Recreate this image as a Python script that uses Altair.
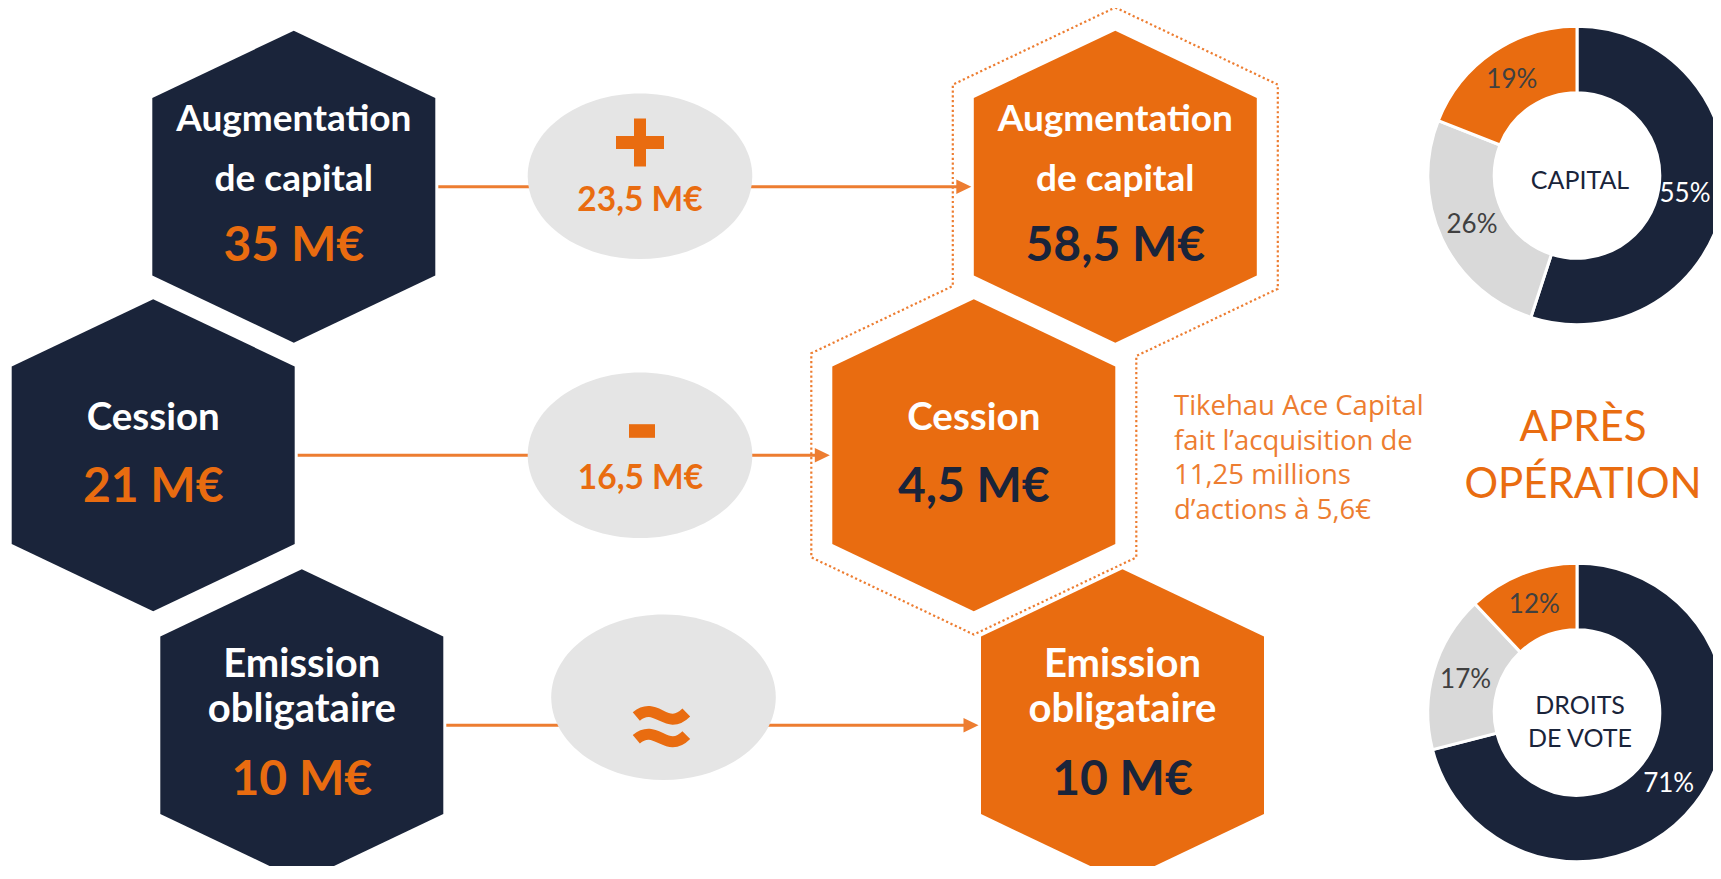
import math
import altair as alt
import pandas as pd

# ---------------- data ----------------
row_titles = [["Augmentation", "de capital"], ["Cession"], ["Emission", "obligataire"]]
before_amounts = ["35 M€", "21 M€", "10 M€"]
after_amounts = ["58,5 M€", "4,5 M€", "10 M€"]
change_amounts = ["23,5 M€", "16,5 M€"]
change_signs = ["plus", "minus", "approx"]
note_lines = ["Tikehau Ace Capital", "fait l’acquisition de", "11,25 millions", "d’actions à 5,6€"]
headline_lines = ["APRÈS", "OPÉRATION"]
donut_titles = [["CAPITAL"], ["DROITS", "DE VOTE"]]
donut_segments = ["navy", "gray", "orange"]
capital_shares = [55, 26, 19]
vote_shares = [71, 17, 12]

# ---------------- layout ----------------
CANVAS_W, CANVAS_H = 1713, 866
before_cx = [293.8, 153.2, 301.8]
after_cx = [1115.3, 973.8, 1122.5]
row_cy = [186.7, 455.3, 725.3]
title_baselines = [[131, 191], [430], [676.5, 722]]
title_sizes = [37, 38.5, 40]
amount_baselines = [260.7, 501.7, 795]
bubble_centers = [(640, 176.2), (640, 455.3), (663.5, 697.2)]
sign_centers = [(640, 142.5), (642, 431), (661.3, 726.5)]
change_pos = [(640, 210.7), (640.5, 489.3)]
note_x, note_baselines = 1174, [415, 449.5, 484, 518.5]
headline_x, headline_baselines = 1583, [440.5, 498.3]
donut_centers = [(1577, 175.5), (1577, 712.5)]
donut_title_baselines = [[189.3], [714, 746.7]]
R_OUT, R_IN, R_LABEL = 149.2, 82.8, 116
LABEL_HALF_W = 28  # keep percentage labels inside the canvas
HEX_W, HEX_H, HEX_S = 141.5, 156, 88.8
OUTLINE_GAP = 21

# ---------------- styles ----------------
NAVY = "#1A243A"
ORANGE = "#E96C10"
LINE = "#ED7D31"
BUBBLE = "#E5E5E5"
DONUT_GRAY = "#D9D9D9"
LABEL_GRAY = "#404040"
FONT = "Lato"
NOTE_FONT = "Open Sans"

HEX_PATH = (f"M0,{-HEX_H}L{HEX_W},{-HEX_S}L{HEX_W},{HEX_S}L0,{HEX_H}"
            f"L{-HEX_W},{HEX_S}L{-HEX_W},{-HEX_S}Z")
ELLIPSE_PATH = "M-112.3,0A112.3,82.8 0 1,1 112.3,0A112.3,82.8 0 1,1 -112.3,0Z"
PLUS_PATH = "M-6,-24L6,-24L6,-6.5L24,-6.5L24,6.5L6,6.5L6,24L-6,24L-6,6.5L-24,6.5L-24,-6.5L-6,-6.5Z"
MINUS_PATH = "M-13,-6.8L13,-6.8L13,6.8L-13,6.8Z"
APPROX_PATH = "M-25,-10C-5,-27 5,6 25,-14M-25,12.7C-5,-4.3 5,28.7 25,8.7"
ARROW_PATH = "M-7.5,-7.3L7.5,0L-7.5,7.3Z"
UNIT = 4  # symbol size 4 -> path drawn at 1px per unit


def X(f):
    return alt.X(f"{f}:Q", scale=alt.Scale(domain=[0, CANVAS_W], nice=False, zero=False), axis=None)


def Y(f):
    return alt.Y(f"{f}:Q", scale=alt.Scale(domain=[0, CANVAS_H], nice=False, zero=False, reverse=True), axis=None)


# ---------------- tables ----------------
hex_df = pd.DataFrame(
    [{"cx": before_cx[i], "cy": row_cy[i], "side": "before"} for i in range(3)]
    + [{"cx": after_cx[i], "cy": row_cy[i], "side": "after"} for i in range(3)]
)

title_rows, amount_rows = [], []
for i in range(3):
    for cx in (before_cx[i], after_cx[i]):
        for line, yb in zip(row_titles[i], title_baselines[i]):
            title_rows.append({"x": cx, "y": yb, "text": line, "fs": title_sizes[i]})
    amount_rows.append({"x": before_cx[i], "y": amount_baselines[i], "text": before_amounts[i], "side": "before"})
    amount_rows.append({"x": after_cx[i], "y": amount_baselines[i], "text": after_amounts[i], "side": "after"})
title_df = pd.DataFrame(title_rows)
amount_df = pd.DataFrame(amount_rows)

arrow_df = pd.DataFrame({
    "y": row_cy,
    "x0": [before_cx[i] + HEX_W + 3 for i in range(3)],
    "x1": [after_cx[i] - HEX_W - 2.5 - 14 for i in range(3)],
    "xh": [after_cx[i] - HEX_W - 2.5 - 7.5 for i in range(3)],
})

bubble_df = pd.DataFrame({"x": [c[0] for c in bubble_centers], "y": [c[1] for c in bubble_centers]})
sign_df = pd.DataFrame({"x": [c[0] for c in sign_centers], "y": [c[1] for c in sign_centers], "sign": change_signs})
change_df = pd.DataFrame({"x": [p[0] for p in change_pos], "y": [p[1] for p in change_pos], "text": change_amounts})

# dotted outline around the two "after" hexagons (rows 0 and 1), offset by OUTLINE_GAP
k = (HEX_H - HEX_S) / HEX_W
cos_t = math.cos(math.atan(k))
Wp = HEX_W + OUTLINE_GAP
Hp = HEX_H + OUTLINE_GAP / cos_t
Sp = Hp - Wp * k
cxD, cyD = after_cx[0], row_cy[0]
cxE, cyE = after_cx[1], row_cy[1]
xr = cxE + Wp
xl = cxD - Wp
pts = [
    (cxD, cyD - Hp), (cxD + Wp, cyD - Sp), (cxD + Wp, cyD + Sp),
    (xr, cyD + Hp - (xr - cxD) * k),
    (cxE + Wp, cyE + Sp), (cxE, cyE + Hp), (cxE - Wp, cyE + Sp), (cxE - Wp, cyE - Sp),
    (xl, cyE - Hp + (cxE - xl) * k),
    (cxD - Wp, cyD - Sp), (cxD, cyD - Hp),
]
outline_df = pd.DataFrame({"x": [p[0] for p in pts], "y": [p[1] for p in pts], "i": list(range(len(pts)))})

note_df = pd.DataFrame({"x": [note_x] * 4, "y": note_baselines, "text": note_lines})
headline_df = pd.DataFrame({"x": [headline_x] * 2, "y": headline_baselines, "text": headline_lines})

arc_rows, pct_rows, dtitle_rows = [], [], []
for d, shares in enumerate([capital_shares, vote_shares]):
    cx, cy = donut_centers[d]
    total = sum(shares)
    acc = 0
    for seg, v in zip(donut_segments, shares):
        t0 = acc / total * 2 * math.pi
        t1 = (acc + v) / total * 2 * math.pi
        mid = (t0 + t1) / 2
        arc_rows.append({"cx": cx, "cy": cy, "t0": t0, "t1": t1, "seg": seg})
        lx = min(cx + R_LABEL * math.sin(mid), CANVAS_W - LABEL_HALF_W)
        pct_rows.append({"x": lx, "y": cy - R_LABEL * math.cos(mid), "text": f"{v}%", "seg": seg})
        acc += v
    for line, yb in zip(donut_titles[d], donut_title_baselines[d]):
        dtitle_rows.append({"x": cx + 3, "y": yb, "text": line})
arc_df = pd.DataFrame(arc_rows)
pct_df = pd.DataFrame(pct_rows)
dtitle_df = pd.DataFrame(dtitle_rows)

# ---------------- layers ----------------
outline = alt.Chart(outline_df).mark_line(color=LINE, strokeWidth=2.2, strokeDash=[2.2, 2.6]).encode(
    x=X("x"), y=Y("y"), order="i:Q")

rules = alt.Chart(arrow_df).mark_rule(color=LINE, strokeWidth=3).encode(
    x=X("x0"), x2=alt.X2("x1:Q"), y=Y("y"))
heads = alt.Chart(arrow_df).mark_point(shape=ARROW_PATH, size=UNIT, filled=True, opacity=1,
                                       color=LINE, strokeWidth=0).encode(x=X("xh"), y=Y("y"))

bubbles = alt.Chart(bubble_df).mark_point(shape=ELLIPSE_PATH, size=UNIT, filled=True, opacity=1,
                                          color=BUBBLE, strokeWidth=0).encode(x=X("x"), y=Y("y"))
plus = alt.Chart(sign_df[sign_df.sign == "plus"]).mark_point(
    shape=PLUS_PATH, size=UNIT, filled=True, opacity=1, color=ORANGE, strokeWidth=0).encode(x=X("x"), y=Y("y"))
minus = alt.Chart(sign_df[sign_df.sign == "minus"]).mark_point(
    shape=MINUS_PATH, size=UNIT, filled=True, opacity=1, color=ORANGE, strokeWidth=0).encode(x=X("x"), y=Y("y"))
approx = alt.Chart(sign_df[sign_df.sign == "approx"]).mark_point(
    shape=APPROX_PATH, size=UNIT, filled=False, opacity=1, color=ORANGE, strokeWidth=11).encode(x=X("x"), y=Y("y"))
change_text = alt.Chart(change_df).mark_text(font=FONT, fontWeight="bold", fontSize=33.5, color=ORANGE,
                                             align="center", baseline="alphabetic").encode(
    x=X("x"), y=Y("y"), text="text:N")

hexes = alt.Chart(hex_df).mark_point(shape=HEX_PATH, size=UNIT, filled=True, opacity=1, strokeWidth=0).encode(
    x=X("cx"), y=Y("cy"),
    color=alt.Color("side:N", scale=alt.Scale(domain=["before", "after"], range=[NAVY, ORANGE]), legend=None))
titles = alt.Chart(title_df).mark_text(font=FONT, fontWeight="bold", color="white",
                                       align="center", baseline="alphabetic").encode(
    x=X("x"), y=Y("y"), text="text:N", size=alt.Size("fs:Q", scale=None))
amounts = alt.Chart(amount_df).mark_text(font=FONT, fontWeight="bold", fontSize=48,
                                         align="center", baseline="alphabetic").encode(
    x=X("x"), y=Y("y"), text="text:N",
    color=alt.Color("side:N", scale=alt.Scale(domain=["before", "after"], range=[ORANGE, NAVY]), legend=None))

note = alt.Chart(note_df).mark_text(font=NOTE_FONT, fontSize=27.5, color=LINE, align="left",
                                    baseline="alphabetic").encode(x=X("x"), y=Y("y"), text="text:N")
headline = alt.Chart(headline_df).mark_text(font=FONT, fontSize=42, color=ORANGE, align="center",
                                            baseline="alphabetic").encode(x=X("x"), y=Y("y"), text="text:N")

arcs = alt.Chart(arc_df).mark_arc(radius=R_OUT, innerRadius=R_IN, stroke="white", strokeWidth=3).encode(
    x=X("cx"), y=Y("cy"),
    theta=alt.Theta("t0:Q", scale=None), theta2=alt.Theta2("t1:Q"),
    color=alt.Color("seg:N", scale=alt.Scale(domain=donut_segments, range=[NAVY, DONUT_GRAY, ORANGE]),
                    legend=None))
pcts = alt.Chart(pct_df).mark_text(font=FONT, fontSize=26, align="center", baseline="middle").encode(
    x=X("x"), y=Y("y"), text="text:N",
    color=alt.Color("seg:N", scale=alt.Scale(domain=donut_segments, range=["white", LABEL_GRAY, LABEL_GRAY]),
                    legend=None))
dtitles = alt.Chart(dtitle_df).mark_text(font=FONT, fontSize=25, color=NAVY, align="center",
                                         baseline="alphabetic").encode(x=X("x"), y=Y("y"), text="text:N")

chart = alt.layer(
    outline, rules, heads, bubbles, plus, minus, approx, change_text,
    hexes, titles, amounts, note, headline, arcs, pcts, dtitles
).resolve_scale(color="independent", size="independent").properties(
    width=CANVAS_W, height=CANVAS_H,
    padding={"left": -8, "top": -8, "right": 0, "bottom": 0},
    autosize=alt.AutoSizeParams(type="none"),
).configure_view(stroke=None).configure(background="white")

chart.save("out.html", embed_options={"renderer": "svg", "actions": False})
